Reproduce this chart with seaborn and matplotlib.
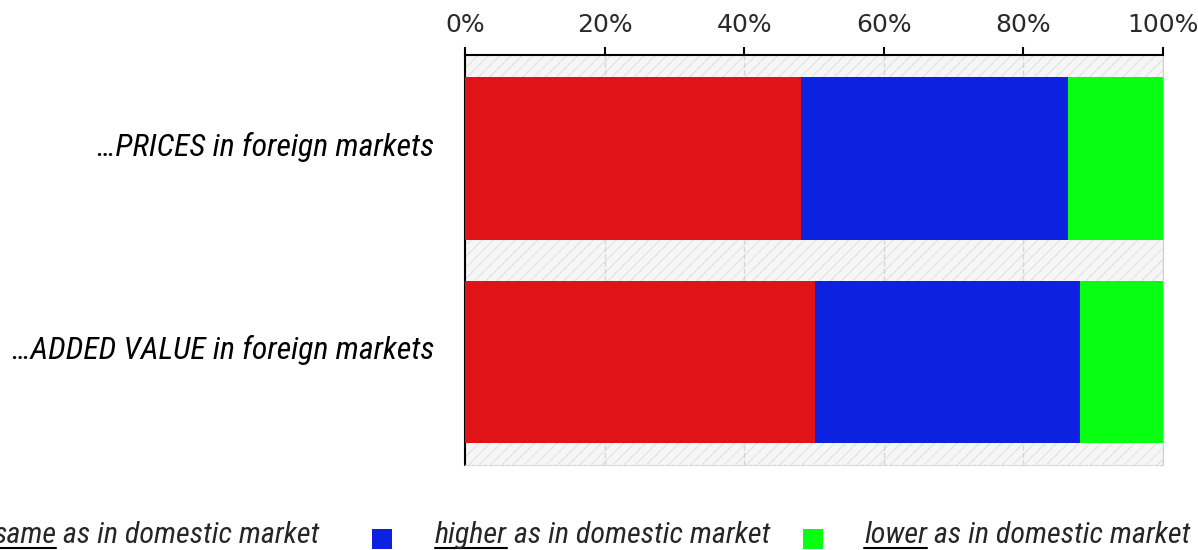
import matplotlib
matplotlib.use("Agg")
import matplotlib.pyplot as plt
import matplotlib.transforms as mtransforms
from matplotlib import font_manager
from matplotlib.patches import Rectangle
from matplotlib.lines import Line2D
import seaborn as sns
import pandas as pd

# data
categories = ["…PRICES in foreign markets", "…ADDED VALUE in foreign markets"]
same_vals = [48.2, 50.2]
higher_vals = [38.2, 37.9]
lower_vals = [13.6, 11.9]
tick_vals = [0, 20, 40, 60, 80, 100]
tick_labels = ["0%", "20%", "40%", "60%", "80%", "100%"]
legend_words = ["same", "higher", "lower"]
legend_rest = " as in domestic market"
colors = ["#e01318", "#0c22e0", "#08ff12"]

W, H = 1198, 550
sns.set_style("white")
plt.rcParams["font.family"] = ["DejaVu Sans"]
plt.rcParams["hatch.linewidth"] = 0.8

# the original uses a narrow italic face; take one if it is installed
installed = {f.name for f in font_manager.fontManager.ttflist}
narrow = [f for f in ["Liberation Sans Narrow", "Arial Narrow", "Roboto Condensed",
                      "DejaVu Sans Condensed", "Liberation Sans"] if f in installed]
narrow = narrow[:1] + ["DejaVu Sans"]

df = pd.DataFrame({"cat": categories, "same": same_vals,
                   "higher": higher_vals, "lower": lower_vals})
df["c_same"] = df["same"]
df["c_higher"] = df["same"] + df["higher"]
df["c_lower"] = df["c_higher"] + df["lower"]

fig = plt.figure(figsize=(W / 100, H / 100), dpi=100)
ax = fig.add_axes([465 / W, 1 - 465 / H, (1163 - 465) / W, (465 - 55) / H])
renderer = fig.canvas.get_renderer()


def fit_size(text, target_px, base=21):
    # font size that gives the text the same width as in the reference
    t = fig.text(0, 0, text, fontsize=base, style="italic", family=narrow)
    w = t.get_window_extent(renderer).width
    t.remove()
    return base * target_px / w


# hatched grey background
ax.set_facecolor("#f6f6f6")
ax.add_patch(Rectangle((0, 0), 1, 1, transform=ax.transAxes, facecolor="none",
                       edgecolor="#e2e2e2", hatch="///", lw=0, zorder=0))

# stacked bars: draw cumulative totals back to front
for col, c in zip(["c_lower", "c_higher", "c_same"], colors[::-1]):
    sns.barplot(data=df, x=col, y="cat", orient="h", color=c, saturation=1,
                width=0.8, linewidth=0, ax=ax, zorder=3)

ax.set_xlim(0, 100)
ax.set_ylim(1.506, -0.509)
ax.set_xlabel("")
ax.set_ylabel("")

ax.xaxis.tick_top()
ax.set_xticks(tick_vals)
ax.set_xticklabels(tick_labels, fontsize=18, color="#2a2a2a")
ax.tick_params(axis="x", direction="out", length=6, width=1.5, pad=7, color="black")
ax.tick_params(axis="y", direction="out", length=3, width=1.2, pad=19, color="black")

ylab_size = fit_size(categories[0], 336)
for lab in ax.get_yticklabels():
    lab.set_fontfamily(narrow)
    lab.set_fontstyle("italic")
    lab.set_fontsize(ylab_size)
    lab.set_color("black")
    lab.set_transform(lab.get_transform() +
                      mtransforms.ScaledTranslation(0, 0.15, fig.dpi_scale_trans))

ax.grid(axis="x", ls="--", color="#d6d6d6", lw=1, zorder=1)
ax.set_axisbelow(True)
for s in ["top", "left"]:
    ax.spines[s].set_color("black")
    ax.spines[s].set_linewidth(1.5)
ax.spines["right"].set_color("#cfcfcf")
ax.spines["bottom"].set_color("#d6d6d6")
ax.spines["bottom"].set_linestyle("--")

# legend drawn by hand (first item runs off the left edge as in the original)
leg_size = fit_size("lower" + legend_rest, 326)
text_x = [-7, 435, 864]
square_x = [-68, 372, 803]
base_y = 1 - 543 / H
for word, tx, sx, c in zip(legend_words, text_x, square_x, colors):
    fig.add_artist(Rectangle((sx / W, 1 - 549 / H), 20 / W, 20 / H,
                             transform=fig.transFigure, facecolor=c, lw=0))
    t = fig.text(tx / W, base_y, word, fontsize=leg_size, style="italic",
                 family=narrow, va="baseline")
    bb = t.get_window_extent(renderer)
    fig.text(bb.x1 / W, base_y, legend_rest, fontsize=leg_size, style="italic",
             family=narrow, va="baseline")
    fig.add_artist(Line2D([bb.x0 / W, bb.x1 / W], [1 - 548 / H] * 2,
                          transform=fig.transFigure, color="black", lw=1.5))

fig.savefig("out.png", dpi=100)
